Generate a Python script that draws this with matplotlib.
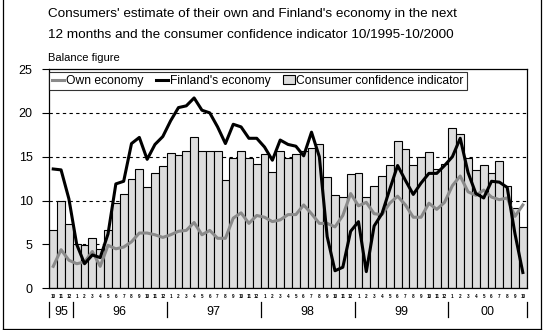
import numpy as np
import matplotlib
matplotlib.use('Agg')
import matplotlib.pyplot as plt
from matplotlib.lines import Line2D
from matplotlib.patches import Patch

plt.rcParams['font.family'] = ['Liberation Sans', 'DejaVu Sans']

# months 10/1995 - 10/2000
months = ['10', '11', '12'] + [str(m) for m in range(1, 13)] * 4 + [str(m) for m in range(1, 11)]
years = ['95', '96', '97', '98', '99', '00']
year_len = [3, 12, 12, 12, 12, 10]

confidence = [6.7, 9.9, 7.3, 5.1, 4.9, 5.7, 4.5, 6.7, 9.7, 10.8, 12.5, 13.6,
              11.5, 13.2, 13.9, 15.4, 15.2, 15.6, 17.2, 15.6, 15.6, 15.6, 12.4, 14.9,
              15.6, 14.9, 14.2, 15.3, 13.3, 15.6, 14.9, 15.3, 15.6, 16.0, 16.4, 12.7,
              10.6, 10.4, 13.0, 13.1, 10.4, 11.7, 12.8, 14.0, 16.8, 15.9, 14.0, 15.0,
              15.5, 13.6, 14.2, 18.3, 17.6, 14.8, 13.5, 14.0, 13.2, 14.5, 11.7, 9.1, 7.0]

finland = [13.6, 13.5, 10.2, 5.0, 2.8, 3.8, 3.5, 6.2, 11.9, 12.2, 16.5, 17.2,
           14.7, 16.4, 17.3, 19.1, 20.6, 20.8, 21.7, 20.3, 20.0, 18.4, 16.5, 18.7,
           18.4, 17.1, 17.1, 16.1, 14.6, 16.9, 16.4, 16.2, 15.1, 17.8, 15.0, 5.9,
           2.0, 2.4, 6.5, 7.6, 1.9, 7.1, 8.5, 11.3, 14.0, 12.3, 10.7, 12.0,
           13.1, 13.1, 14.0, 15.0, 17.1, 13.2, 10.8, 10.3, 12.2, 12.1, 11.5, 6.2, 1.8]

own = [2.5, 4.4, 3.2, 2.8, 3.0, 4.2, 2.5, 4.9, 4.5, 4.7, 5.3, 6.3,
       6.3, 6.1, 5.8, 6.1, 6.5, 6.6, 7.5, 6.1, 6.6, 5.7, 5.7, 8.0,
       8.6, 7.4, 8.3, 8.1, 7.6, 7.8, 8.4, 8.4, 9.5, 8.5, 7.4, 7.4,
       7.0, 8.3, 10.8, 9.4, 9.8, 8.5, 8.4, 9.7, 10.5, 9.5, 8.1, 8.1,
       9.7, 9.0, 9.8, 11.7, 12.8, 11.0, 10.6, 11.2, 10.4, 10.1, 10.3, 8.2, 9.5]

x = np.arange(len(months))

fig = plt.figure(figsize=(5.45, 3.30), dpi=100)
ax = fig.add_axes([0.0905, 0.1264, 0.876, 0.6645])

for y in [5, 10, 15, 20]:
    ax.axhline(y, color='black', lw=0.8, ls=(0, (3, 3)), zorder=0)

ax.bar(x, confidence, width=1.0, color='#dddddd', edgecolor='black', lw=0.8, zorder=2)
ax.plot(x, own, color='#8a8a8a', lw=2.2, zorder=3)
ax.plot(x, finland, color='black', lw=2.2, zorder=4)

ax.set_xlim(-0.5, len(months) - 0.5)
ax.set_ylim(0, 25)
ax.set_yticks([0, 5, 10, 15, 20, 25])
ax.tick_params(axis='y', length=5, width=0.8, pad=7, labelsize=9)
ax.set_xticks(x)
ax.set_xticklabels(months, fontsize=3.3, fontweight='bold')
ax.tick_params(axis='x', length=0, pad=4)
for s in ax.spines.values():
    s.set_linewidth(0.9)

# year labels and separators
trans = ax.get_xaxis_transform()
start = -0.5
ax.plot([start, start], [-0.063, -0.132], color='black', lw=0.9, transform=trans, clip_on=False)
for yr, n in zip(years, year_len):
    ax.text(start + n / 2, -0.107, yr, transform=trans, ha='center', va='center', fontsize=9)
    start += n
    ax.plot([start, start], [-0.063, -0.132], color='black', lw=0.9, transform=trans, clip_on=False)

handles = [Line2D([], [], color='#8a8a8a', lw=2.2),
           Line2D([], [], color='black', lw=2.2),
           Patch(facecolor='#dddddd', edgecolor='black', lw=0.8)]
leg = ax.legend(handles, ['Own economy', "Finland's economy", 'Consumer confidence indicator'],
                loc='upper left', bbox_to_anchor=(0, 0.987), borderaxespad=0, ncol=3,
                fontsize=8.7, frameon=True, fancybox=False, handlelength=1.0,
                handletextpad=0.15, columnspacing=1.0, borderpad=0.25)
leg.get_frame().set_edgecolor('black')
leg.get_frame().set_linewidth(0.8)

fig.text(0.088, 0.957, "Consumers' estimate of their own and Finland's economy in the next",
         fontsize=9.7, va='center', ha='left')
fig.text(0.088, 0.894, "12 months and the consumer confidence indicator 10/1995-10/2000",
         fontsize=9.7, va='center', ha='left')
fig.text(0.088, 0.824, 'Balance figure', fontsize=8, va='center', ha='left')

# outer frame
fl, fr, fb = 3 / 545, 541 / 545, 1.5 / 330
fig.add_artist(Line2D([fl, fl], [fb, 1], color='black', lw=0.9))
fig.add_artist(Line2D([fr, fr], [fb, 1], color='black', lw=0.9))
fig.add_artist(Line2D([fl, fr], [fb, fb], color='black', lw=0.9))

fig.savefig('out.png', dpi=100)
